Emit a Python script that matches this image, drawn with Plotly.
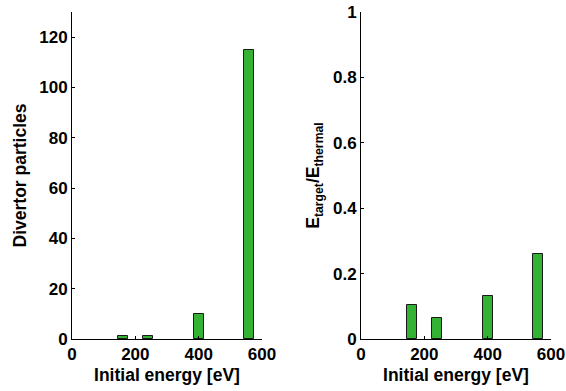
import plotly.graph_objects as go

energy = [160, 240, 400, 560]
divertor_particles = [1, 1, 10, 115]
energy_ratio = [0.105, 0.065, 0.13, 0.26]

x_ticks = [0, 200, 400, 600]
x_ticklabels = ["0", "200", "400", "600"]
y1_ticks = [0, 20, 40, 60, 80, 100, 120]
y1_ticklabels = ["0", "20", "40", "60", "80", "100", "120"]
y2_ticks = [0, 0.2, 0.4, 0.6, 0.8, 1]
y2_ticklabels = ["0", "0.2", "0.4", "0.6", "0.8", "1"]

FONT = "Liberation Sans, Arial, sans-serif"
BAR = "#33b233"
EDGE = "#1a1a1a"


def bold(labels):
    return ["<b>%s</b>" % s for s in labels]


fig = go.Figure()
fig.add_trace(go.Bar(x=energy, y=divertor_particles, width=32,
                     marker=dict(color=BAR, line=dict(color=EDGE, width=1)),
                     xaxis="x", yaxis="y", showlegend=False))
fig.add_trace(go.Bar(x=energy, y=energy_ratio, width=32,
                     marker=dict(color=BAR, line=dict(color=EDGE, width=1)),
                     xaxis="x2", yaxis="y2", showlegend=False))

tickfont = dict(family=FONT, size=17, color="black")
titlefont = dict(family=FONT, size=17.5, color="black")

common_x = dict(range=[0, 600], tickvals=x_ticks, ticktext=bold(x_ticklabels),
                ticks="inside", ticklen=3, automargin=False,
                tickcolor="black", showline=True, linecolor="black", linewidth=1,
                showgrid=False, zeroline=False, tickfont=tickfont,
                title=dict(text="<b>Initial energy [eV]</b>", font=titlefont, standoff=5))
common_y = dict(ticks="inside", ticklen=3, tickcolor="black", showline=True,
                linecolor="black", linewidth=1, showgrid=False, zeroline=False,
                tickfont=tickfont, automargin=False)

ydom = [52 / 391, 379 / 391]
fig.update_layout(
    width=566, height=391,
    margin=dict(l=0, r=0, t=0, b=0),
    paper_bgcolor="white", plot_bgcolor="white",
    bargap=0,
    xaxis=dict(domain=[72 / 566, 262 / 566], anchor="y", **common_x),
    xaxis2=dict(domain=[361 / 566, 551 / 566], anchor="y2", **common_x),
    yaxis=dict(domain=ydom, anchor="x", range=[0, 130], tickvals=y1_ticks,
               ticktext=bold(y1_ticklabels),
               title=dict(text="<b>Divertor particles</b>", font=titlefont, standoff=8),
               **common_y),
    yaxis2=dict(domain=ydom, anchor="x2", range=[0, 1], tickvals=y2_ticks,
                ticktext=bold(y2_ticklabels),
                title=dict(text="<b>E<sub>target</sub>/E<sub>thermal</sub></b>", font=titlefont, standoff=8),
                **common_y),
)

fig.write_html("out.html")
